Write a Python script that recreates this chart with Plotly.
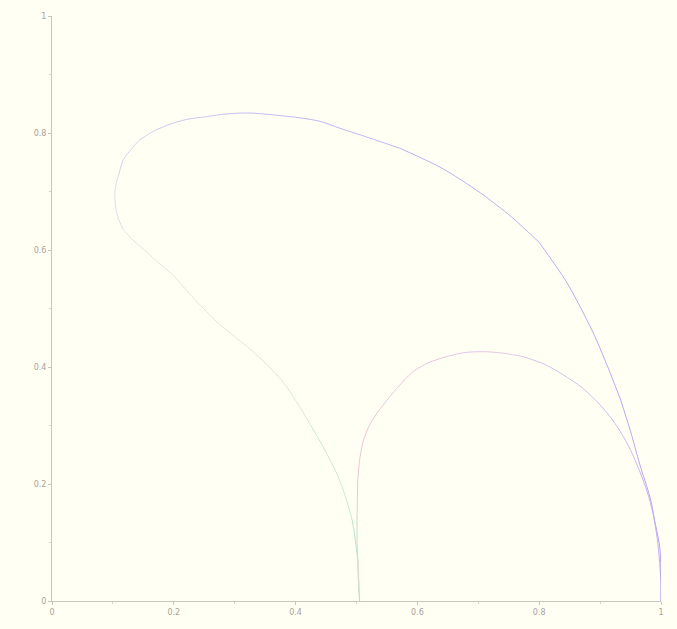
import plotly.graph_objects as go

# Outer loop: from (0.5,0) up-left, over the top, down to (1,0)
loop_x = [0.505, 0.503, 0.502, 0.498, 0.493, 0.482, 0.468, 0.447, 0.424, 0.402, 0.379, 0.352,
          0.325, 0.30, 0.271, 0.235, 0.199, 0.175, 0.156, 0.133, 0.117, 0.107, 0.103, 0.105,
          0.11, 0.117, 0.13, 0.144, 0.17, 0.199, 0.225, 0.254, 0.28, 0.309, 0.33, 0.363,
          0.40, 0.44, 0.473, 0.52, 0.571, 0.64, 0.703, 0.755, 0.80, 0.845, 0.888, 0.911,
          0.933, 0.95, 0.965, 0.982, 0.99, 0.998, 1.0, 1.0]
loop_y = [0.0, 0.04, 0.07, 0.105, 0.138, 0.178, 0.217, 0.26, 0.302, 0.34, 0.375, 0.405,
          0.431, 0.452, 0.477, 0.515, 0.557, 0.578, 0.596, 0.617, 0.635, 0.66, 0.693, 0.712,
          0.73, 0.754, 0.772, 0.788, 0.805, 0.817, 0.824, 0.828, 0.832, 0.834, 0.834, 0.831,
          0.827, 0.82, 0.808, 0.792, 0.774, 0.74, 0.698, 0.656, 0.613, 0.545, 0.46, 0.404,
          0.346, 0.29, 0.234, 0.177, 0.135, 0.092, 0.04, 0.0]

# Inner arc: from (0.5,0) up to peak near (0.71,0.43) down to (1,0)
arc_x = [0.505, 0.503, 0.501, 0.501, 0.502, 0.505, 0.511, 0.522, 0.539, 0.565, 0.593, 0.62,
         0.648, 0.68, 0.714, 0.745, 0.773, 0.81, 0.839, 0.87, 0.895, 0.915, 0.933, 0.95,
         0.965, 0.977, 0.987, 0.994, 0.998, 1.0, 1.0]
arc_y = [0.0, 0.05, 0.1, 0.15, 0.205, 0.24, 0.273, 0.302, 0.329, 0.362, 0.392, 0.408,
         0.418, 0.425, 0.426, 0.423, 0.418, 0.404, 0.387, 0.365, 0.341, 0.317, 0.29, 0.258,
         0.222, 0.188, 0.149, 0.105, 0.064, 0.03, 0.0]

x_ticks = [0, 0.2, 0.4, 0.6, 0.8, 1]
x_labels = ["0", "0.2", "0.4", "0.6", "0.8", "1"]
y_ticks = [0, 0.2, 0.4, 0.6, 0.8, 1]
y_labels = ["0", "0.2", "0.4", "0.6", "0.8", "1"]


def lerp(c1, c2, t):
    return tuple(int(round(a + (b - a) * t)) for a, b in zip(c1, c2))


def grad(stops, t):
    for i in range(len(stops) - 1):
        t0, c0 = stops[i]
        t1, c1 = stops[i + 1]
        if t <= t1:
            return lerp(c0, c1, (t - t0) / (t1 - t0) if t1 > t0 else 0)
    return stops[-1][1]


def add_gradient_curve(fig, xs, ys, stops, chunk=4, width=1.0):
    n = len(xs) - 1
    i = 0
    while i < n:
        j = min(i + chunk, n)
        c = grad(stops, ((i + j) / 2) / n)
        fig.add_trace(go.Scatter(x=xs[i:j + 1], y=ys[i:j + 1], mode="lines",
                                 line=dict(color="rgb(%d,%d,%d)" % c, width=width,
                                           shape="spline", smoothing=0.8),
                                 hoverinfo="skip", showlegend=False))
        i = j


fig = go.Figure()

loop_stops = [(0.0, (165, 235, 185)), (0.12, (205, 235, 210)), (0.3, (232, 232, 226)),
              (0.45, (220, 212, 238)), (0.6, (200, 188, 240)), (1.0, (180, 160, 242))]
add_gradient_curve(fig, loop_x, loop_y, loop_stops)

arc_stops = [(0.0, (185, 235, 200)), (0.15, (240, 195, 210)), (0.45, (232, 198, 228)),
             (0.75, (205, 185, 240)), (1.0, (185, 165, 242))]
add_gradient_curve(fig, arc_x, arc_y, arc_stops)

axis_common = dict(showgrid=False, zeroline=False, showline=True, linecolor="#cdc4bc",
                   linewidth=1, ticks="outside", ticklen=3, tickcolor="#cdc4bc",
                   tickfont=dict(size=8, color="#aaa29a", family="DejaVu Sans"),
                   minor=dict(ticks="outside", ticklen=2, tickcolor="#dcd4cc", dtick=0.1),
                   fixedrange=True)

fig.update_layout(
    width=677, height=629,
    margin=dict(l=52, r=16, t=12, b=28),
    paper_bgcolor="#fffff4", plot_bgcolor="#fffff4",
    xaxis=dict(range=[0, 1], tickvals=x_ticks, ticktext=x_labels, **axis_common),
    yaxis=dict(range=[0, 1], tickvals=y_ticks, ticktext=y_labels, **axis_common),
)

fig.write_html("out.html")
